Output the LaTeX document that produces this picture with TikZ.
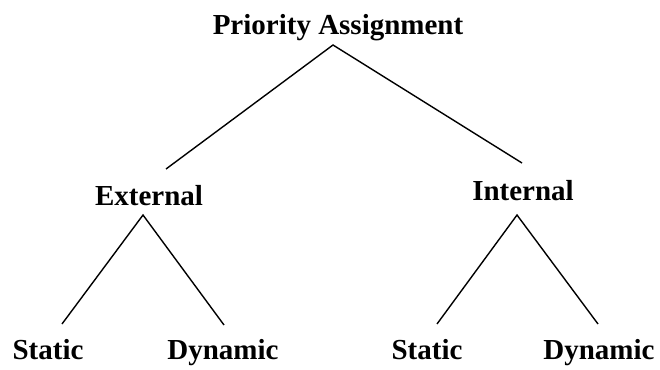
\documentclass[tikz,border=0pt]{standalone}
\usepackage{fontspec}
\setmainfont{Liberation Serif}
\begin{document}
\begin{tikzpicture}[x=1pt,y=-1pt,
  lbl/.style={font=\fontsize{29}{32}\selectfont\bfseries, inner sep=0pt, anchor=base},
  edge/.style={line width=1.4pt, line join=miter}]
\useasboundingbox (0,0) rectangle (660,369);
\node[lbl] (root) at (338,35) {Priority Assignment};
\node[lbl] (ext) at (149,205) {External};
\node[lbl] (int) at (523,200) {Internal};
\node[lbl] (es) at (48,359) {Static};
\node[lbl] (ed) at (223,359) {Dynamic};
\node[lbl] (is) at (427,359) {Static};
\node[lbl] (id) at (599,359) {Dynamic};
\coordinate (ra) at (333,45);
\coordinate (rl) at (166,169);
\coordinate (rr) at (522,163);
\coordinate (ea) at (143,215);
\coordinate (el) at (62,324);
\coordinate (er) at (224,325);
\coordinate (ia) at (517,215);
\coordinate (il) at (437,324);
\coordinate (ir) at (598,324);
\draw[edge] (rl) -- (ra) -- (rr);
\draw[edge] (el) -- (ea) -- (er);
\draw[edge] (il) -- (ia) -- (ir);
\end{tikzpicture}
\end{document}
